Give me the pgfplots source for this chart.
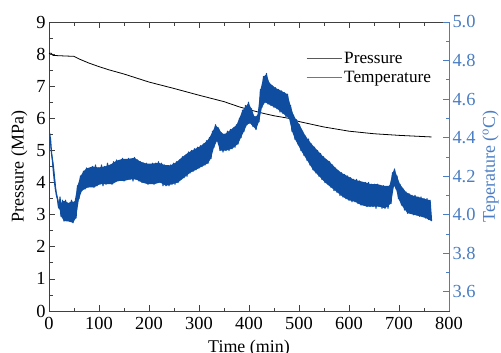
\documentclass[border=0pt]{standalone}
\usepackage{pgfplots}
\pgfplotsset{compat=1.18}
\usepackage{fontspec}
\setmainfont{Liberation Serif}
\definecolor{tblue}{RGB}{14,77,160}
\definecolor{axblue}{RGB}{74,125,195}
\begin{document}
\begin{tikzpicture}
\begin{axis}[name=ax, width=400bp, height=289bp, scale only axis,
  xmin=0, xmax=800, ymin=0, ymax=9,
  xtick={0,100,...,800}, minor xtick={50,150,...,750},
  ytick={0,1,...,9}, minor ytick={0.5,1.5,...,8.5},
  ytick pos=left,
  tick align=inside, major tick length=6bp, minor tick length=3.5bp,
  axis line style={line width=0.8pt, black!75},
  every tick/.style={black!75, line width=0.7pt},
  /pgf/number format/assume math mode=true,
  tick label style={font=\fontsize{18.5}{20}\selectfont},
  xticklabel style={yshift=-3bp},
  label style={font=\fontsize{18}{20}\selectfont},
  xlabel={Time (min)}, ylabel={Pressure (MPa)},
  xlabel style={yshift=-3bp},
  ylabel style={yshift=2bp},
]
\addplot[black, line width=0.8pt] coordinates {
(0,8.02) (4,8.03) (8,7.96) (20,7.95) (35,7.94) (50,7.93) (60,7.85) (80,7.72) (100,7.61) (120,7.51) (150,7.38) (180,7.23) (200,7.13) (250,6.93) (300,6.72) (350,6.52) (380,6.36) (400,6.27) (430,6.15) (450,6.08) (480,6.00) (500,5.90) (550,5.73) (600,5.60) (650,5.52) (700,5.47) (765,5.42)
};
\end{axis}
\begin{axis}[width=400bp, height=289bp, scale only axis,
  xmin=0, xmax=800, ymin=3.5, ymax=5.0,
  axis x line=none, axis y line*=right,
  ytick={3.6,3.8,4.0,4.2,4.4,4.6,4.8,5.0},
  minor ytick={3.7,3.9,4.1,4.3,4.5,4.7,4.9},
  tick align=inside, major tick length=6bp, minor tick length=3.5bp,
  axis line style={line width=0.8pt, axblue},
  every tick/.style={axblue, line width=0.7pt},
  /pgf/number format/assume math mode=true,
  yticklabel style={font=\fontsize{18.5}{20}\selectfont, axblue, /pgf/number format/fixed, /pgf/number format/fixed zerofill, /pgf/number format/precision=1},
  ylabel style={font=\fontsize{18}{20}\selectfont, axblue},
  ylabel={Teperature (\textsuperscript{o}C)},
  legend style={at={(0.635,0.91)}, anchor=north west, draw=none, fill=none,
    font=\fontsize{17.3}{19}\selectfont, row sep=2.5bp},
  legend cell align=left,
  legend image code/.code={\draw[#1] (0bp,0bp) -- (35bp,0bp);},
]
\addlegendimage{black!65, line width=1pt}
\addlegendentry{Pressure}
\addlegendimage{axblue, line width=0.8pt}
\addlegendentry{Temperature}
% band body (upper edge, then lower edge back)
\addplot[fill=tblue, draw=none, forget plot] coordinates {
(1,4.425) (5,4.33) (10,4.25) (15,4.12) (21,4.05) (27,4.07) (33,4.07) (39,4.06) (45,4.07) (51,4.065) (57,4.15) (63,4.20) (69,4.225) (75,4.24) (87,4.25) (99,4.245) (111,4.25) (123,4.26) (135,4.28) (147,4.29) (159,4.29) (171,4.295) (183,4.275) (195,4.265) (207,4.265) (219,4.27) (231,4.258) (243,4.256) (255,4.273) (267,4.30) (279,4.323) (291,4.34) (303,4.356) (315,4.38) (321,4.40) (327,4.43) (333,4.465) (339,4.45) (345,4.425) (351,4.417) (363,4.44) (375,4.465) (387,4.54) (399,4.58) (405,4.55) (411,4.508) (417,4.515) (423,4.65) (429,4.715) (435,4.73) (441,4.683) (453,4.658) (465,4.642) (477,4.625) (483,4.567) (489,4.517) (495,4.49) (501,4.467) (513,4.408) (525,4.367) (537,4.333) (549,4.30) (561,4.275) (573,4.242) (585,4.217) (597,4.20) (609,4.183) (621,4.175) (633,4.167) (645,4.158) (657,4.158) (669,4.15) (681,4.15) (687,4.217) (691,4.237) (696,4.20) (702,4.158) (714,4.117) (726,4.10) (738,4.092) (750,4.083) (762,4.075)
(765,3.967) (753,3.983) (741,3.992) (729,4.0) (717,4.008) (705,4.05) (699,4.083) (694,4.133) (690,4.15) (684,4.058) (672,4.033) (660,4.042) (648,4.042) (636,4.042) (624,4.05) (612,4.067) (600,4.075) (588,4.092) (576,4.117) (564,4.142) (552,4.167) (540,4.20) (528,4.233) (516,4.283) (504,4.333) (492,4.392) (486,4.433) (480,4.50) (468,4.525) (456,4.55) (444,4.567) (432,4.583) (426,4.558) (420,4.483) (414,4.442) (408,4.458) (402,4.475) (396,4.467) (390,4.433) (384,4.40) (378,4.367) (366,4.342) (354,4.333) (342,4.333) (336,4.383) (330,4.35) (324,4.292) (318,4.267) (306,4.25) (294,4.233) (282,4.217) (270,4.192) (258,4.167) (246,4.158) (234,4.15) (222,4.167) (210,4.158) (198,4.158) (186,4.167) (174,4.183) (162,4.183) (150,4.175) (138,4.175) (126,4.158) (114,4.158) (102,4.158) (90,4.142) (78,4.142) (66,4.125) (60,4.083) (54,3.983) (48,3.958) (36,3.967) (30,3.967) (24,3.992) (21,4.03) (15,4.10) (10,4.20) (5,4.31) (1,4.40)
} -- cycle;
\addplot[tblue, line width=1.3pt, line join=round, forget plot] coordinates {
(0,4.233) (1,4.425) (3,4.39) (5,4.32) (7,4.28) (9,4.22) (11,4.17) (13,4.13) (15,4.10) (17,4.08) (19,4.04) (21,4.03)
(22,4.092) (24,3.992) (27,4.075) (30,3.967) (33,4.075) (36,3.967) (39,4.058) (42,3.975) (45,4.075) (48,3.958)
(51,4.067) (54,3.983) (57,4.150) (60,4.083) (63,4.200) (66,4.125) (69,4.225) (72,4.133) (75,4.242) (78,4.142)
(81,4.233) (84,4.150) (87,4.250) (90,4.142) (93,4.258) (96,4.150) (99,4.242) (102,4.158) (105,4.258) (108,4.150)
(111,4.250) (114,4.158) (117,4.267) (120,4.167) (123,4.258) (126,4.158) (129,4.275) (132,4.175) (135,4.283) (138,4.175)
(141,4.275) (144,4.183) (147,4.292) (150,4.175) (153,4.283) (156,4.183) (159,4.292) (162,4.183) (165,4.283) (168,4.175)
(171,4.297) (174,4.183) (177,4.283) (180,4.175) (183,4.275) (186,4.167) (189,4.267) (192,4.167) (195,4.267) (198,4.158)
(201,4.258) (204,4.167) (207,4.267) (210,4.158) (213,4.267) (216,4.167) (219,4.275) (222,4.167) (225,4.267) (228,4.150)
(231,4.258) (234,4.150) (237,4.250) (240,4.150) (243,4.258) (246,4.158) (249,4.267) (252,4.158) (255,4.275) (258,4.167)
(261,4.283) (264,4.183) (267,4.300) (270,4.192) (273,4.308) (276,4.200) (279,4.325) (282,4.217) (285,4.333) (288,4.225)
(291,4.342) (294,4.233) (297,4.350) (300,4.242) (303,4.358) (306,4.250) (309,4.367) (312,4.258) (315,4.383) (318,4.267)
(321,4.400) (324,4.292) (327,4.433) (330,4.350) (333,4.467) (336,4.383) (339,4.450) (342,4.333) (345,4.425) (348,4.325)
(351,4.417) (354,4.333) (357,4.433) (360,4.333) (363,4.442) (366,4.342) (369,4.450) (372,4.350) (375,4.467) (378,4.367)
(381,4.500) (384,4.400) (387,4.542) (390,4.433) (393,4.567) (396,4.467) (399,4.583) (402,4.475) (405,4.550) (408,4.458)
(411,4.508) (414,4.442) (417,4.517) (420,4.483) (423,4.650) (426,4.558) (429,4.717) (432,4.583) (435,4.733) (438,4.575)
(441,4.683) (444,4.567) (447,4.667) (450,4.558) (453,4.658) (456,4.550) (459,4.650) (462,4.533) (465,4.642) (468,4.525)
(471,4.633) (474,4.508) (477,4.625) (480,4.500) (483,4.567) (486,4.433) (489,4.517) (492,4.392) (495,4.492) (498,4.367)
(501,4.467) (504,4.333) (507,4.433) (510,4.308) (513,4.408) (516,4.283) (519,4.392) (522,4.258) (525,4.367) (528,4.233)
(531,4.350) (534,4.217) (537,4.333) (540,4.200) (543,4.317) (546,4.183) (549,4.300) (552,4.167) (555,4.283) (558,4.158)
(561,4.275) (564,4.142) (567,4.258) (570,4.125) (573,4.242) (576,4.117) (579,4.225) (582,4.100) (585,4.217) (588,4.092)
(591,4.208) (594,4.083) (597,4.200) (600,4.075) (603,4.192) (606,4.067) (609,4.183) (612,4.067) (615,4.183) (618,4.058)
(621,4.175) (624,4.050) (627,4.167) (630,4.050) (633,4.167) (636,4.042) (639,4.167) (642,4.042) (645,4.158) (648,4.042)
(651,4.158) (654,4.033) (657,4.158) (660,4.042) (663,4.150) (666,4.033) (669,4.150) (672,4.033) (675,4.142) (678,4.033)
(681,4.150) (684,4.058) (687,4.217) (690,4.150) (691,4.237) (694,4.133) (696,4.200) (699,4.083) (702,4.158) (705,4.050)
(708,4.133) (711,4.025) (714,4.117) (717,4.008) (720,4.108) (723,4.008) (726,4.100) (729,4.000) (732,4.100) (735,4.000)
(738,4.092) (741,3.992) (744,4.092) (747,3.992) (750,4.083) (753,3.983) (756,4.083) (759,3.975) (762,4.075) (765,3.967)
};
\end{axis}
\pgfresetboundingbox
\path ([xshift=-49bp,yshift=-41bp]ax.south west) rectangle ([xshift=52bp,yshift=22bp]ax.north east);
\end{tikzpicture}
\end{document}
